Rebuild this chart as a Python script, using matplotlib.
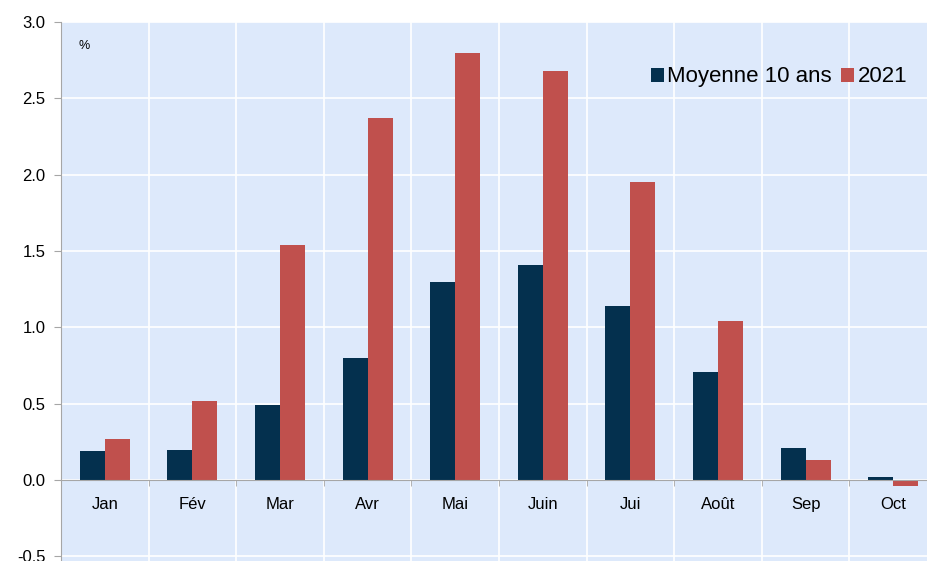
import matplotlib.pyplot as plt
import numpy as np

plt.rcParams['font.family'] = ['Liberation Sans', 'DejaVu Sans']

# Data
mois = ['Jan', 'Fév', 'Mar', 'Avr', 'Mai', 'Juin', 'Jui', 'Août', 'Sep', 'Oct']
moyenne_10_ans = [0.19, 0.20, 0.49, 0.80, 1.30, 1.41, 1.14, 0.71, 0.21, 0.02]
annee_2021 = [0.27, 0.52, 1.54, 2.37, 2.80, 2.68, 1.95, 1.04, 0.13, -0.04]
yticks = [-0.5, 0.0, 0.5, 1.0, 1.5, 2.0, 2.5, 3.0]

fig = plt.figure(figsize=(9.28, 5.61), dpi=100)
ax = fig.add_axes([61 / 928, 0, 1 - 61 / 928, (561 - 22) / 561])
ax.set_facecolor('#dde9fb')

x = np.arange(len(mois))
w = 0.285
ax.bar(x - w / 2, moyenne_10_ans, w, color='#04304e', label='Moyenne 10 ans', zorder=3)
ax.bar(x + w / 2, annee_2021, w, color='#c0504d', label='2021', zorder=3)

ax.set_xlim(-0.5, -0.5 + 867 / 87.6)
ax.set_ylim(-0.53, 3.0)

# axes and grid
ax.set_yticks(yticks)
ax.set_yticklabels([f'{v:.1f}' for v in yticks])
ax.set_xticks(x)
ax.set_xticklabels(mois)
ax.set_xticks(x[:-1] + 0.5, minor=True)
for v in yticks:
    ax.axhline(v, color='white', lw=1.2, zorder=1)
for b in x[:-1] + 0.5:
    ax.axvline(b, color='white', lw=1.2, zorder=1)

for s in ['top', 'right']:
    ax.spines[s].set_visible(False)
ax.spines['left'].set_color('#a6a6a6')
ax.spines['bottom'].set_position(('data', 0))
ax.spines['bottom'].set_color('#a6a6a6')
ax.spines['bottom'].set_zorder(4)

ax.tick_params(axis='y', length=5, color='#a6a6a6', pad=6, labelsize=12)
ax.tick_params(axis='x', which='major', length=0, pad=12, labelsize=12)
ax.tick_params(axis='x', which='minor', length=4, color='#a6a6a6', direction='out')

ax.text(0.02, 0.955, '%', fontsize=9, transform=ax.transAxes, va='center')

ax.legend(loc='center right', bbox_to_anchor=(0.976, 0.898), frameon=False,
          fontsize=16, handlelength=0.6, handleheight=0.6, handletextpad=0.15,
          columnspacing=0.4, ncol=2, borderaxespad=0, borderpad=0)

fig.savefig('out.png', dpi=100)
